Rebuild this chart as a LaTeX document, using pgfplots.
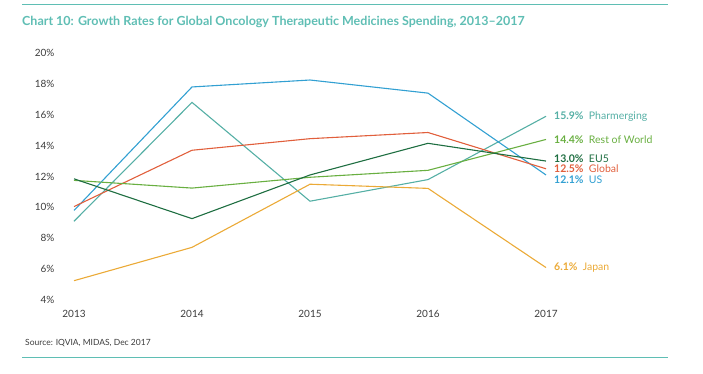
\documentclass[border=0pt]{standalone}
\usepackage{fontspec}
\setmainfont{Lato}
\usepackage{pgfplots}
\pgfplotsset{compat=1.18}
\definecolor{cteal}{RGB}{95,190,180}
\definecolor{cus}{RGB}{50,160,210}
\definecolor{cph}{RGB}{85,175,165}
\definecolor{cgl}{RGB}{225,95,60}
\definecolor{ceu}{RGB}{30,110,65}
\definecolor{crw}{RGB}{105,175,65}
\definecolor{cjp}{RGB}{235,170,55}
\definecolor{ctxt}{RGB}{60,60,60}
\begin{document}
\begin{tikzpicture}[x=1pt,y=1pt]
\path (0,0) rectangle (703,-374);
\draw[cteal,line width=1pt] (22,-5) -- (668,-5);
\draw[cteal,line width=1pt] (22,-357) -- (668,-357);
\node[anchor=west,text=cteal,font=\fontsize{12.5}{14}\selectfont\bfseries,inner sep=0] at (22,-22) {Chart 10: Growth Rates for Global Oncology Therapeutic Medicines Spending, 2013--2017};
\node[anchor=west,text=ctxt,font=\fontsize{8.5}{10}\selectfont,inner sep=0] at (25,-343) {Source: IQVIA, MIDAS, Dec 2017};
\begin{axis}[
  at={(74pt,-300pt)}, anchor=south west,
  scale only axis, width=472pt, height=247pt,
  xmin=2013, xmax=2017, ymin=4, ymax=20,
  axis line style={draw=none}, clip=false,
  xtick={2013,2014,2015,2016,2017},
  ytick={4,6,8,10,12,14,16,18,20},
  xticklabel style={/pgf/number format/1000 sep={}},
  /pgf/number format/assume math mode=true,
  yticklabel={\pgfmathprintnumber{\tick}\%},
  every tick label/.append style={font=\fontsize{10}{11}\selectfont, text=ctxt},
  yticklabel style={anchor=east, xshift=-16pt},
  xticklabel style={yshift=-7pt},
  every axis plot/.append style={line width=1.1pt, no markers},
  major tick length=0pt, tick style={draw=none},
]
\addplot[cph] coordinates {(2013,9.1) (2014,16.8) (2015,10.4) (2016,11.8) (2017,15.9)};
\addplot[cus] coordinates {(2013,9.8) (2014,17.8) (2015,18.25) (2016,17.4) (2017,12.1)};
\addplot[cgl] coordinates {(2013,10.05) (2014,13.7) (2015,14.45) (2016,14.85) (2017,12.5)};
\addplot[crw] coordinates {(2013,11.75) (2014,11.25) (2015,11.95) (2016,12.4) (2017,14.4)};
\addplot[ceu] coordinates {(2013,11.85) (2014,9.27) (2015,12.1) (2016,14.15) (2017,13.0)};
\addplot[cjp] coordinates {(2013,5.25) (2014,7.41) (2015,11.5) (2016,11.23) (2017,6.1)};
\begin{scope}[every node/.style={anchor=west, font=\fontsize{10.5}{12}\selectfont, inner sep=0, xshift=8pt}]
\node[text=cph] at (axis cs:2017,15.9) {\textbf{15.9\%}\ \ Pharmerging};
\node[text=crw] at (axis cs:2017,14.4) {\textbf{14.4\%}\ \ Rest of World};
\node[text=ceu,yshift=2.5pt] at (axis cs:2017,13.0) {\textbf{13.0\%}\ \ EU5};
\node[text=cgl] at (axis cs:2017,12.5) {\textbf{12.5\%}\ \ Global};
\node[text=cus,yshift=-4.5pt] at (axis cs:2017,12.1) {\textbf{12.1\%}\ \ US};
\node[text=cjp] at (axis cs:2017,6.1) {\textbf{6.1\%}\ \ Japan};
\end{scope}
\end{axis}
\end{tikzpicture}
\end{document}
